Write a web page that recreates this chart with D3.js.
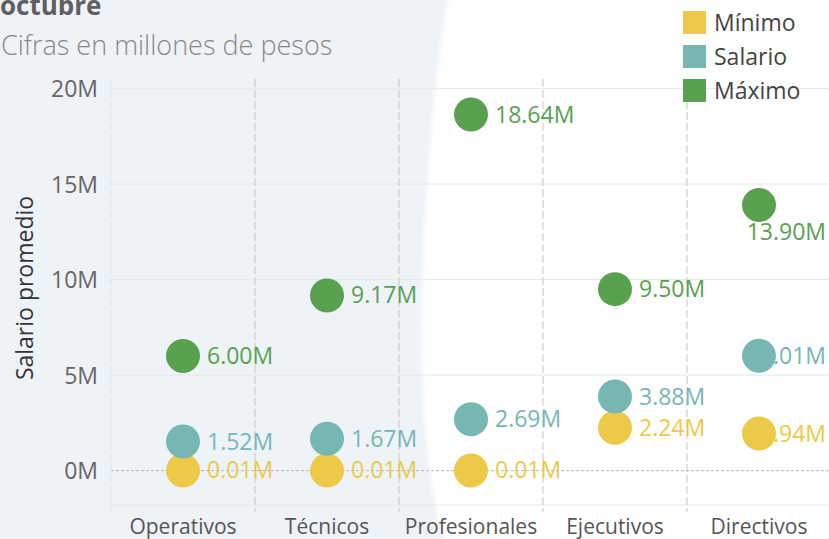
<!DOCTYPE html>
<html>
<head>
<meta charset="utf-8">
<script src="https://cdn.jsdelivr.net/npm/d3@7"></script>
<style>
  body { margin: 0; background: #fff; }
  svg, svg text { font-family: "Open Sans", "Noto Sans", sans-serif; }
  svg { display: block; }
</style>
</head>
<body>
<div id="chart"></div>
<script>
// datos (millones de pesos)
const categorias = ["Operativos", "Técnicos", "Profesionales", "Ejecutivos", "Directivos"];
const minimo  = [0.01, 0.01, 0.01, 2.24, 1.94];
const salario = [1.52, 1.67, 2.69, 3.88, 6.01];
const maximo  = [6.00, 9.17, 18.64, 9.50, 13.90];
const ticksY  = [0, 5, 10, 15, 20];
const series  = ["Mínimo", "Salario", "Máximo"];

const width = 829, height = 539;
const colores = { "Mínimo": "#edc948", "Salario": "#76b7b2", "Máximo": "#59a14f" };

const svg = d3.select("#chart").append("svg")
    .attr("width", width)
    .attr("height", height);

// fondo decorativo a la izquierda
const defs = svg.append("defs");
defs.append("filter").attr("id", "suave")
    .append("feGaussianBlur").attr("stdDeviation", 2);
svg.append("rect").attr("width", width).attr("height", height).attr("fill", "#fff");
svg.append("path")
    .attr("d", "M-10,-10 L449,-10 C432,90 421,230 422,350 C423,440 432,500 446,550 L-10,550 Z")
    .attr("fill", "#eef3f8")
    .attr("filter", "url(#suave)");

const x = d3.scaleBand().domain(categorias).range([111, 831]).padding(0);
const y = d3.scaleLinear().domain([-1.8, 20.5]).range([505, 79]);

// rejilla horizontal
svg.append("g").selectAll("line")
    .data(ticksY.filter(d => d !== 0))
    .join("line")
    .attr("x1", 111).attr("x2", width)
    .attr("y1", d => y(d)).attr("y2", d => y(d))
    .attr("stroke", "#e6e8ea").attr("stroke-width", 1);
svg.append("line")
    .attr("x1", 111).attr("x2", width)
    .attr("y1", y.range()[0]).attr("y2", y.range()[0])
    .attr("stroke", "#e6e8ea");
svg.append("line")
    .attr("x1", 111).attr("x2", width)
    .attr("y1", y(0)).attr("y2", y(0))
    .attr("stroke", "#b8b8b8").attr("stroke-dasharray", "3,2");

// separadores verticales
svg.append("line")
    .attr("x1", 111).attr("x2", 111).attr("y1", 79).attr("y2", 512)
    .attr("stroke", "#e2e4e6").attr("stroke-dasharray", "8,3");
svg.append("g").selectAll("line")
    .data(categorias.slice(1))
    .join("line")
    .attr("x1", d => x(d)).attr("x2", d => x(d))
    .attr("y1", 79).attr("y2", 512)
    .attr("stroke", "#c4c4c4").attr("stroke-dasharray", "8,3");

// eje y
const ejeY = svg.append("g")
    .attr("transform", "translate(98,0)")
    .call(d3.axisLeft(y).tickValues(ticksY).tickFormat(d => d + "M").tickSize(0).tickPadding(0))
    .attr("font-family", null);
ejeY.select(".domain").remove();
ejeY.selectAll("text").attr("fill", "#666").style("font-size", "23px").attr("dy", "0.35em");

// eje x
const ejeX = svg.append("g")
    .attr("transform", "translate(0,512)")
    .call(d3.axisBottom(x).tickSize(0).tickPadding(0))
    .attr("font-family", null);
ejeX.select(".domain").remove();
ejeX.selectAll("text").attr("fill", "#555").style("font-size", "21px").attr("dy", "22px");

// titulo eje y
svg.append("text")
    .attr("transform", "translate(33,288) rotate(-90)")
    .attr("text-anchor", "middle")
    .attr("fill", "#333")
    .style("font-size", "23px")
    .text("Salario promedio");

// titulos
svg.append("text").attr("x", 0).attr("y", 15)
    .attr("fill", "#5f5f5f").style("font-size", "26px").style("font-weight", "bold")
    .text("octubre");
svg.append("text").attr("x", 1).attr("y", 55)
    .attr("fill", "#888").style("font-size", "27px").style("font-weight", "300")
    .text("Cifras en millones de pesos");

// puntos
const puntos = [];
series.forEach((s, si) => {
    const vals = [minimo, salario, maximo][si];
    categorias.forEach((c, i) => puntos.push({ serie: s, cat: c, valor: vals[i] }));
});

const etiquetas = svg.append("g").selectAll("text")
    .data(puntos)
    .join("text")
    .attr("x", d => x(d.cat) + x.bandwidth() / 2 + 24)
    .attr("y", d => y(d.valor))
    .attr("dy", "0.35em")
    .attr("fill", d => colores[d.serie])
    .style("font-size", "23px")
    .text(d => d.valor.toFixed(2) + "M");

// si la etiqueta no cabe a la derecha, se recorre
etiquetas.each(function (d) {
    const t = d3.select(this);
    const w = this.getComputedTextLength();
    const x0 = +t.attr("x");
    if (x0 + w > width - 2) {
        t.attr("text-anchor", "end").attr("x", width - 3);
        if (d.serie === "Máximo") t.attr("y", y(d.valor) + 27);
    }
});

svg.append("g").selectAll("circle")
    .data(puntos)
    .join("circle")
    .attr("cx", d => x(d.cat) + x.bandwidth() / 2)
    .attr("cy", d => y(d.valor))
    .attr("r", 17)
    .attr("fill", d => colores[d.serie]);

// leyenda
const leyenda = svg.append("g").selectAll("g")
    .data(series)
    .join("g")
    .attr("transform", (d, i) => `translate(683,${11 + i * 34})`);
leyenda.append("rect").attr("width", 23).attr("height", 23).attr("fill", d => colores[d]);
leyenda.append("text")
    .attr("x", 31).attr("y", 11.5).attr("dy", "0.35em")
    .attr("fill", "#444").style("font-size", "23px")
    .text(d => d);
</script>
</body>
</html>
